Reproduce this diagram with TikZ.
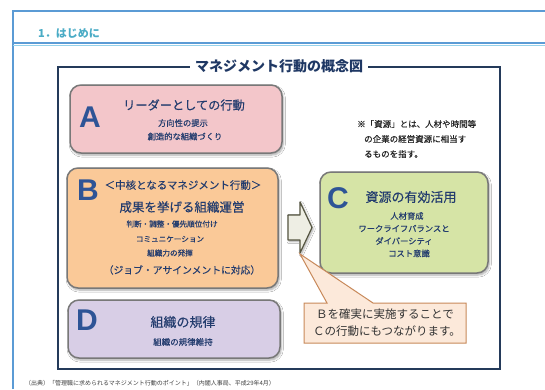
\documentclass[tikz,border=0pt]{standalone}
\usepackage{fontspec}
\setmainfont{Liberation Sans}
\newfontfamily\jp{Noto Sans CJK JP}
\newfontfamily\jpm[FakeBold=0.35]{Noto Sans CJK JP}
\newfontfamily\jps[FakeBold=0.5]{Noto Sans CJK JP}
\usetikzlibrary{shadows.blur}
\definecolor{outerblue}{RGB}{91,155,213}
\definecolor{cyanlite}{RGB}{150,210,235}
\definecolor{headcol}{RGB}{75,172,198}
\definecolor{framenavy}{RGB}{36,58,90}
\definecolor{titlenavy}{RGB}{31,56,100}
\definecolor{letterblue}{RGB}{46,84,150}
\definecolor{txtnavy}{RGB}{35,60,110}
\definecolor{fillA}{RGB}{243,198,202}
\definecolor{fillB}{RGB}{250,201,152}
\definecolor{fillC}{RGB}{214,228,166}
\definecolor{fillD}{RGB}{216,206,230}
\definecolor{boxedge}{RGB}{120,120,120}
\definecolor{arrfill}{RGB}{238,238,228}
\definecolor{arredge}{RGB}{85,85,65}
\definecolor{callfill}{RGB}{252,233,218}
\definecolor{calledge}{RGB}{200,137,90}
\tikzset{
  cbox/.style={rounded corners=11pt, draw=boxedge, line width=1.5pt, inner sep=0pt,
    blur shadow={shadow xshift=1.2pt, shadow yshift=-2pt, shadow blur steps=6, shadow opacity=35}},
  bigletter/.style={font=\bfseries\fontsize{30}{32}\selectfont, text=letterblue, inner sep=0pt},
  btitle/.style={font=\jpm\fontsize{12.5}{14}\selectfont, text=txtnavy, inner sep=0pt},
  bsub/.style={font=\jps\fontsize{8.3}{10}\selectfont, text=txtnavy, inner sep=0pt},
  notetxt/.style={font=\jpm\fontsize{8.5}{10}\selectfont, text=black!85, inner sep=0pt, anchor=west},
}
\begin{document}
\begin{tikzpicture}[x=1pt,y=-1pt]
\useasboundingbox (0,0) rectangle (545,389);
\fill[white] (0,0) rectangle (545,389);
% outer frame and header
\draw[outerblue, line width=1.3pt] (13,389) -- (13,11) -- (545,11);
\draw[outerblue, line width=1.2pt] (13,43) -- (545,43);
\draw[cyanlite, line width=1.5pt] (13,45.3) -- (545,45.3);
\node[anchor=west, inner sep=0pt, text=headcol, font=\jp\bfseries\fontsize{11}{13}\selectfont] (hdr) at (38,33) {1．はじめに};
% inner frame
\draw[framenavy, line width=1.4pt] (58,67) rectangle (500,369);
\node[fill=white, inner xsep=5pt, inner ysep=1pt, text=titlenavy, font=\jp\bfseries\fontsize{14}{16}\selectfont] (title) at (279,66) {マネジメント行動の概念図};
% boxes
\node[cbox, fill=fillA, minimum width=212pt, minimum height=68pt] (boxA) at (176,119) {};
\node[cbox, fill=fillB, minimum width=211pt, minimum height=120pt] (boxB) at (172.5,228) {};
\node[cbox, fill=fillC, minimum width=168pt, minimum height=101pt] (boxC) at (404,222.5) {};
\node[cbox, fill=fillD, minimum width=212pt, minimum height=58pt] (boxD) at (174,329) {};
% A
\node[bigletter] (lA) at (90,117.5) {A};
\node[btitle, font=\jpm\fontsize{12.2}{14}\selectfont] (tA) at (184,105) {リーダーとしての行動};
\node[bsub] (sA1) at (183,123) {方向性の提示};
\node[bsub] (sA2) at (185,136.5) {創造的な組織づくり};
% B
\node[bigletter] (lB) at (88,190) {B};
\node[btitle, font=\jpm\fontsize{10.5}{12}\selectfont] (tB0) at (183,185) {＜中核となるマネジメント行動＞};
\node[btitle] (tB) at (182,207) {成果を挙げる組織運営};
\node[bsub, font=\jps\fontsize{7.6}{9}\selectfont] (sB1) at (172,224) {判断・調整・優先順位付け};
\node[bsub, font=\jps\fontsize{7.6}{9}\selectfont] (sB2) at (170,239) {コミュニケーション};
\node[bsub, font=\jps\fontsize{7.6}{9}\selectfont] (sB3) at (170,253) {組織力の発揮};
\node[btitle, font=\jpm\fontsize{9.8}{12}\selectfont] (sB4) at (182,270) {（ジョブ・アサインメントに対応）};
% C
\node[bigletter] (lC) at (338,198) {C};
\node[btitle, font=\jpm\fontsize{13}{15}\selectfont] (tC) at (411,197) {資源の有効活用};
\node[bsub] (sC1) at (407,216) {人材育成};
\node[bsub] (sC2) at (404,228.5) {ワークライフバランスと};
\node[bsub] (sC3) at (404,241) {ダイバーシティ};
\node[bsub] (sC4) at (409,253.5) {コスト意識};
% D
\node[bigletter] (lD) at (87,320) {D};
\node[btitle, font=\jpm\fontsize{13}{15}\selectfont] (tD) at (183,322) {組織の規律};
\node[bsub, font=\jps\fontsize{8.5}{10}\selectfont] (sD1) at (183,342) {組織の規律維持};
% block arrow
\draw[fill=arrfill, draw=arredge, line width=1.2pt, line join=round,
  blur shadow={shadow xshift=1.2pt, shadow yshift=-1.5pt, shadow blur steps=5, shadow opacity=35}]
  (288,215) -- (300,215) -- (300,202) -- (312,227.5) -- (300,253) -- (300,240) -- (288,240) -- cycle;
\coordinate (ptip) at (300,254);
% callout
\draw[fill=callfill, draw=calledge, line width=1pt, line join=miter]
  (304,303) -- (327,303) -- (ptip) -- (373,303) -- (466,303) -- (466,343) -- (304,343) -- cycle;
\node[font=\jp\fontsize{11.5}{13}\selectfont, text=black!80, inner sep=0pt] (call1) at (385,314) {Ｂを確実に実施することで};
\node[font=\jp\fontsize{11.5}{13}\selectfont, text=black!80, inner sep=0pt] (call2) at (387,331) {Ｃの行動にもつながります。};
% note
\node[notetxt] (n1) at (357,124) {※「資源」とは、人材や時間等};
\node[notetxt] (n2) at (364,139) {の企業の経営資源に相当す};
\node[notetxt] (n3) at (364,154) {るものを指す。};
% footer
\node[anchor=west, inner sep=0pt, text=black!75, font=\jp\fontsize{6}{7}\selectfont] (foot) at (25,383) {（出典）「管理職に求められるマネジメント行動のポイント」（内閣人事局、平成29年4月）};
\end{tikzpicture}
\end{document}
